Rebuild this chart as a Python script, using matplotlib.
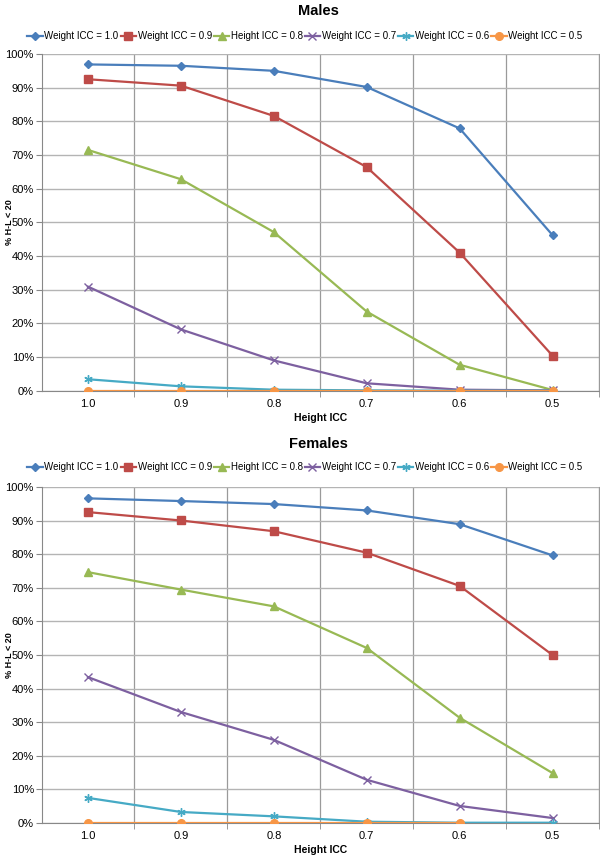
import numpy as np
import matplotlib
matplotlib.use("Agg")
import matplotlib.pyplot as plt
from matplotlib.ticker import FixedLocator, FuncFormatter

plt.rcParams['font.family'] = ['Liberation Sans', 'DejaVu Sans']

# x categories (Height ICC)
height_icc = ["1.0", "0.9", "0.8", "0.7", "0.6", "0.5"]

series_labels = ["Weight ICC = 1.0", "Weight ICC = 0.9", "Height ICC = 0.8",
                 "Weight ICC = 0.7", "Weight ICC = 0.6", "Weight ICC = 0.5"]

# Males, % H-L < 20
males_w10 = [96.9, 96.5, 95.0, 90.2, 77.9, 46.2]
males_w09 = [92.5, 90.6, 81.6, 66.4, 41.0, 10.4]
males_w08 = [71.5, 62.8, 47.1, 23.5, 7.7, 0.2]
males_w07 = [30.9, 18.2, 9.0, 2.2, 0.3, 0.1]
males_w06 = [3.4, 1.3, 0.3, 0.1, 0.0, 0.0]
males_w05 = [0.0, 0.0, 0.0, 0.0, 0.0, 0.0]

# Females, % H-L < 20
females_w10 = [96.7, 95.9, 95.0, 93.1, 89.0, 79.7]
females_w09 = [92.6, 90.1, 86.9, 80.5, 70.6, 50.0]
females_w08 = [74.7, 69.5, 64.5, 52.1, 31.3, 14.8]
females_w07 = [43.4, 33.0, 24.7, 12.8, 5.0, 1.4]
females_w06 = [7.4, 3.2, 1.9, 0.3, 0.0, 0.0]
females_w05 = [0.0, 0.0, 0.0, 0.0, 0.0, np.nan]

colors = ["#4A7EBB", "#BE4B48", "#98B954", "#7D60A0", "#46AAC5", "#F79646"]
markers = ["D", "s", "^", "x", (6, 2, 0), "o"]   # (6,2,0) = six-armed asterisk
msizes = [4.5, 5.5, 5.5, 5.5, 6.0, 5.5]


def draw_panel(ax, data):
    x = np.arange(len(height_icc))
    for vals, lab, c, m, ms in zip(data, series_labels, colors, markers, msizes):
        ax.plot(x, vals, color=c, marker=m, markersize=ms, linewidth=1.6,
                markeredgewidth=1.0, label=lab, zorder=3)
    ax.set_xlim(-0.5, len(height_icc) - 0.5)
    ax.set_ylim(0, 100)
    ax.yaxis.set_major_locator(FixedLocator(np.arange(0, 101, 10)))
    ax.yaxis.set_major_formatter(FuncFormatter(lambda v, p: f"{v:.0f}%"))
    ax.set_xticks(x)
    ax.set_xticklabels(height_icc)
    ax.set_xticks(np.arange(0.5, len(height_icc), 1.0), minor=True)
    ax.tick_params(axis='x', which='major', length=0, labelsize=8, pad=6)
    ax.tick_params(axis='x', which='minor', length=4, color="#888888")
    ax.tick_params(axis='y', which='major', length=4, color="#888888",
                   labelsize=8, pad=1.5)
    ax.grid(axis='y', which='major', color="#b4b4b4", linewidth=1.0)
    ax.grid(axis='x', which='minor', color="#9a9a9a", linewidth=0.9)
    ax.set_axisbelow(True)
    ax.spines['top'].set_visible(False)
    ax.spines['right'].set_color("#9a9a9a")
    ax.spines['left'].set_color("#888888")
    ax.spines['bottom'].set_color("#888888")
    ax.set_xlabel("Height ICC", fontsize=7.5, fontweight='bold', labelpad=3)
    ax.set_ylabel("% H-L < 20", fontsize=6.5, fontweight='bold')
    ax.yaxis.set_label_coords(-0.05, 0.5)


fig = plt.figure(figsize=(6, 8.57), dpi=100)

ax1 = fig.add_axes([0.0693, 0.5441, 0.929, 0.3929])
ax2 = fig.add_axes([0.0693, 0.0400, 0.929, 0.3914])

draw_panel(ax1, [males_w10, males_w09, males_w08, males_w07, males_w06, males_w05])
draw_panel(ax2, [females_w10, females_w09, females_w08, females_w07, females_w06, females_w05])

for ax, title, ty, ly in [(ax1, "Males", 1 - 11 / 857, 1 - 36 / 857),
                          (ax2, "Females", 1 - 444 / 857, 1 - 467 / 857)]:
    fig.text(0.53, ty, title, ha='center', va='center', fontsize=10.5, fontweight='bold')
    ax.legend(loc='center', bbox_to_anchor=(0.508, ly), bbox_transform=fig.transFigure,
              ncol=6, frameon=False, fontsize=7, handlelength=1.6,
              handletextpad=0.15, columnspacing=0.2, borderaxespad=0)

fig.savefig("out.png", dpi=100)
